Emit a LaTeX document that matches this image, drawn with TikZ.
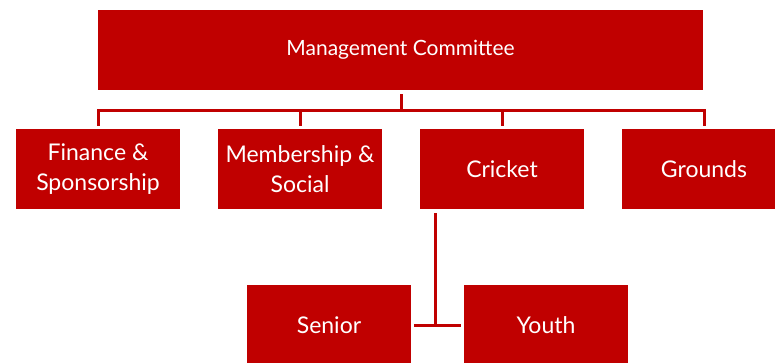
\documentclass[tikz,border=0pt]{standalone}
\usepackage{fontspec}
\setmainfont{Lato}
\usetikzlibrary{calc}
\definecolor{boxred}{HTML}{C00000}
\tikzset{
  orgbox/.style={fill=boxred, draw=none, text=white, align=center, inner sep=0pt,
    minimum width=164pt, minimum height=80pt, font=\fontsize{23}{30}\selectfont},
  conn/.style={draw=boxred, line width=3pt}
}
\begin{document}
\begin{tikzpicture}[x=1pt,y=-1pt]
\clip (0,0) rectangle (775,362);
\fill[white] (0,0) rectangle (775,362);
\node[orgbox, minimum width=605pt, font=\fontsize{21}{26}\selectfont] (top) at (400.5,50) {Management Committee};
\node[orgbox] (fin) at (98,169) {Finance \&\\Sponsorship};
\node[orgbox] (mem) at (300,169) {Membership \&\\Social};
\node[orgbox] (cri) at (502,169) {Cricket};
\node[orgbox] (grd) at (704,169) {Grounds};
\node[orgbox] (sen) at (329,325) {Senior};
\node[orgbox] (you) at (546,325) {Youth};
\coordinate (bus) at (401.5,110);
\coordinate (cj) at (435,325);
\draw[conn] ([yshift=-4pt]top.south -| bus) -- (bus);
\draw[conn] ([yshift=3pt]fin.north) |- (bus) -| ([yshift=3pt]grd.north);
\draw[conn] ([yshift=3pt]mem.north) -- (mem.north |- bus);
\draw[conn] ([yshift=3pt]cri.north) -- (cri.north |- bus);
\draw[conn] ([yshift=-4pt]cri.south -| cj) -- (cj);
\draw[conn] ([xshift=3pt]sen.east) -- ([xshift=-3pt]you.west);
\end{tikzpicture}
\end{document}
